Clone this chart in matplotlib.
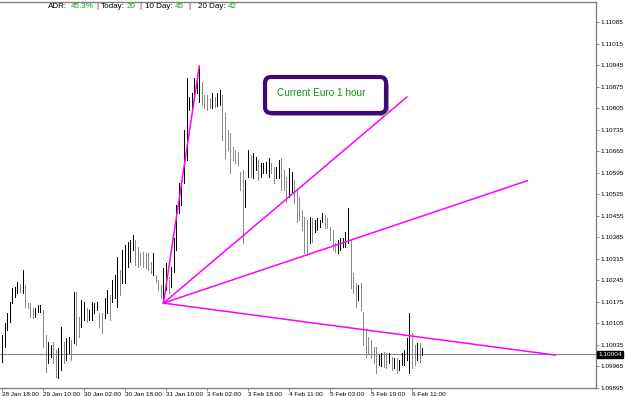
import numpy as np
import matplotlib.pyplot as plt
from matplotlib.patches import FancyBboxPatch
from matplotlib.transforms import IdentityTransform, blended_transform_factory

# EURUSD H1 bars, 28 Jan 18:00 onwards (high / low)
highs = [1.10067, 1.10106, 1.10139, 1.10175, 1.10220, 1.10223, 1.10240, 1.10233, 1.10279, 1.10230,
         1.10171, 1.10171, 1.10155, 1.10155, 1.10165, 1.10165, 1.10149, 1.10067, 1.10045, 1.10035,
         1.10045, 1.10019, 1.10025, 1.10093, 1.10045, 1.10058, 1.10061, 1.10051, 1.10207, 1.10207,
         1.10126, 1.10181, 1.10175, 1.10155, 1.10149, 1.10175, 1.10171, 1.10175, 1.10139, 1.10139,
         1.10188, 1.10214, 1.10197, 1.10246, 1.10262, 1.10321, 1.10279, 1.10344, 1.10360, 1.10370,
         1.10376, 1.10393, 1.10376, 1.10354, 1.10334, 1.10337, 1.10334, 1.10334, 1.10305, 1.10334,
         1.10262, 1.10246, 1.10230, 1.10285, 1.10301, 1.10256, 1.10289, 1.10383, 1.10490, 1.10562,
         1.10562, 1.10734, 1.10903, 1.10841, 1.10854, 1.10903, 1.10913, 1.10942, 1.10890, 1.10848,
         1.10848, 1.10838, 1.10854, 1.10841, 1.10854, 1.10864, 1.10848, 1.10789, 1.10734, 1.10724,
         1.10679, 1.10669, 1.10662, 1.10597, 1.10604, 1.10571, 1.10669, 1.10653, 1.10659, 1.10646,
         1.10636, 1.10627, 1.10627, 1.10630, 1.10643, 1.10627, 1.10614, 1.10614, 1.10636, 1.10643,
         1.10604, 1.10581, 1.10610, 1.10597, 1.10571, 1.10539, 1.10516, 1.10474, 1.10451, 1.10441,
         1.10451, 1.10448, 1.10441, 1.10448, 1.10441, 1.10464, 1.10458, 1.10448, 1.10419, 1.10409,
         1.10367, 1.10376, 1.10383, 1.10383, 1.10402, 1.10480, 1.10376, 1.10269, 1.10236, 1.10230,
         1.10236, 1.10142, 1.10084, 1.10061, 1.10051, 1.10028, 1.10028, 1.10002, 1.10009, 1.10012,
         1.10009, 1.10009, 1.09996, 1.09993, 1.09993, 1.09986, 1.10009, 1.10019, 1.10058, 1.10139,
         1.10074, 1.10035, 1.10041, 1.10041, 1.10025]
lows = [1.09980, 1.10028, 1.10084, 1.10110, 1.10171, 1.10191, 1.10204, 1.10207, 1.10204, 1.10158,
        1.10155, 1.10126, 1.10123, 1.10126, 1.10142, 1.10142, 1.10028, 1.09947, 1.09976, 1.09996,
        1.09976, 1.09931, 1.09928, 1.09954, 1.09976, 1.09986, 1.10009, 1.09986, 1.10041, 1.10035,
        1.10061, 1.10093, 1.10116, 1.10110, 1.10116, 1.10116, 1.10139, 1.10149, 1.10093, 1.10074,
        1.10123, 1.10139, 1.10116, 1.10175, 1.10188, 1.10158, 1.10197, 1.10236, 1.10236, 1.10289,
        1.10305, 1.10344, 1.10295, 1.10289, 1.10295, 1.10289, 1.10285, 1.10279, 1.10269, 1.10262,
        1.10240, 1.10214, 1.10188, 1.10171, 1.10214, 1.10204, 1.10223, 1.10272, 1.10344, 1.10464,
        1.10490, 1.10562, 1.10636, 1.10799, 1.10789, 1.10831, 1.10854, 1.10825, 1.10815, 1.10805,
        1.10799, 1.10805, 1.10805, 1.10809, 1.10812, 1.10815, 1.10701, 1.10643, 1.10669, 1.10594,
        1.10636, 1.10627, 1.10620, 1.10539, 1.10367, 1.10484, 1.10581, 1.10581, 1.10578, 1.10604,
        1.10571, 1.10581, 1.10594, 1.10594, 1.10581, 1.10594, 1.10562, 1.10578, 1.10578, 1.10539,
        1.10539, 1.10500, 1.10516, 1.10529, 1.10497, 1.10435, 1.10441, 1.10409, 1.10334, 1.10328,
        1.10367, 1.10370, 1.10402, 1.10409, 1.10419, 1.10435, 1.10415, 1.10415, 1.10376, 1.10344,
        1.10337, 1.10334, 1.10344, 1.10354, 1.10354, 1.10367, 1.10220, 1.10204, 1.10158, 1.10181,
        1.10149, 1.10035, 1.09996, 1.10009, 1.09993, 1.09976, 1.09944, 1.09970, 1.09967, 1.09963,
        1.09960, 1.09976, 1.09954, 1.09960, 1.09944, 1.09954, 1.09970, 1.09970, 1.09986, 1.09944,
        1.09960, 1.09970, 1.09986, 1.09980, 1.10002]
last_price = 1.10004

xtick_bars = [0, 16, 32, 48, 64, 80, 96, 112, 128, 144, 160]
xtick_labels = ["28 Jan 18:00", "29 Jan 10:00", "30 Jan 02:00", "30 Jan 18:00", "31 Jan 10:00",
                "3 Feb 02:00", "3 Feb 18:00", "4 Feb 11:00", "5 Feb 03:00", "5 Feb 19:00", "6 Feb 11:00"]
ytick_values = [1.09895, 1.09965, 1.10035, 1.10105, 1.10175, 1.10245, 1.10315, 1.10385, 1.10455,
                1.10525, 1.10595, 1.10665, 1.10735, 1.10805, 1.10875, 1.10945, 1.11015, 1.11085]

# trend lines drawn from the 31 Jan low
pivot_bar, pivot_price = 63, 1.10171
line_end_bars = [77, 158, 205, 216]
line_end_prices = [1.10942, 1.10841, 1.10569, 1.10002]

header = [("ADR:", "black", 48), ("45.3%", "#1a9a1a", 71), ("|", "#800040", 96),
          ("Today:", "black", 101), ("20", "#1a9a1a", 127), ("|", "#800040", 139),
          ("10 Day:", "black", 145), ("45", "#1a9a1a", 175), ("|", "#800040", 188),
          ("20 Day:", "black", 198), ("42", "#1a9a1a", 228)]

W, H = 625, 396
fig = plt.figure(figsize=(W / 100, H / 100), dpi=100)
ax = fig.add_axes([0, 1 - 388 / H, 596 / W, 386 / H])

x = np.arange(len(highs))
hi = np.array(highs)
lo = np.array(lows)
mid = (hi + lo) / 2
up = np.r_[True, np.diff(mid) >= 0]
colors = np.where(up, "black", "#8a8a8a")
ax.vlines(x, lo, hi, colors=colors, linewidth=0.6, antialiased=False, zorder=2)

ax.axhline(last_price, color="#778899", linewidth=0.8, zorder=1)

for eb, ep in zip(line_end_bars, line_end_prices):
    ax.plot([pivot_bar, eb], [pivot_price, ep], color="#ff00ff", linewidth=1.1, zorder=3)

ax.set_xlim(-2 / 2.5625, 594 / 2.5625)
ax.set_ylim(1.09895, 1.1115)

ax.set_xticks(xtick_bars)
ax.set_xticklabels(xtick_labels, ha="left", fontsize=4.6, family="Liberation Sans")
ax.yaxis.tick_right()
ax.set_yticks(ytick_values)
ax.set_yticklabels([f"{v:.5f}" for v in ytick_values], fontsize=4.6, family="Liberation Sans")
ax.tick_params(axis="both", length=2, width=0.6, color="#808080", pad=1)

ax.spines["left"].set_visible(False)
for side in ["right", "bottom", "top"]:
    ax.spines[side].set_color("#808080")
    ax.spines[side].set_linewidth(1)

trans = blended_transform_factory(ax.transAxes, ax.transData)
ax.text(1.004, last_price, f"{last_price:.5f}", transform=trans, ha="left", va="center",
        fontsize=4.6, color="white", family="Liberation Sans",
        bbox=dict(boxstyle="square,pad=0.15", facecolor="black", edgecolor="black"))

for s, c, px in header:
    fig.text(px / W, 1 - 6 / H, s, color=c, fontsize=5.8, va="center", family="Liberation Sans")

# label box
shadow = FancyBboxPatch((268, H - 116), 121, 36, boxstyle="round,pad=0,rounding_size=6",
                        transform=IdentityTransform(), facecolor="#a0a0a0", edgecolor="none", zorder=4)
box = FancyBboxPatch((265, H - 113), 121, 36, boxstyle="round,pad=0,rounding_size=6",
                     transform=IdentityTransform(), facecolor="white", edgecolor="#3d0a78",
                     linewidth=3, zorder=5)
fig.add_artist(shadow)
fig.add_artist(box)
fig.text(321 / W, 1 - 93 / H, "Current Euro 1 hour", ha="center", va="center", color="#11901a",
         fontsize=7.2, family="Liberation Sans", zorder=6)

fig.savefig("out.png", dpi=100)
